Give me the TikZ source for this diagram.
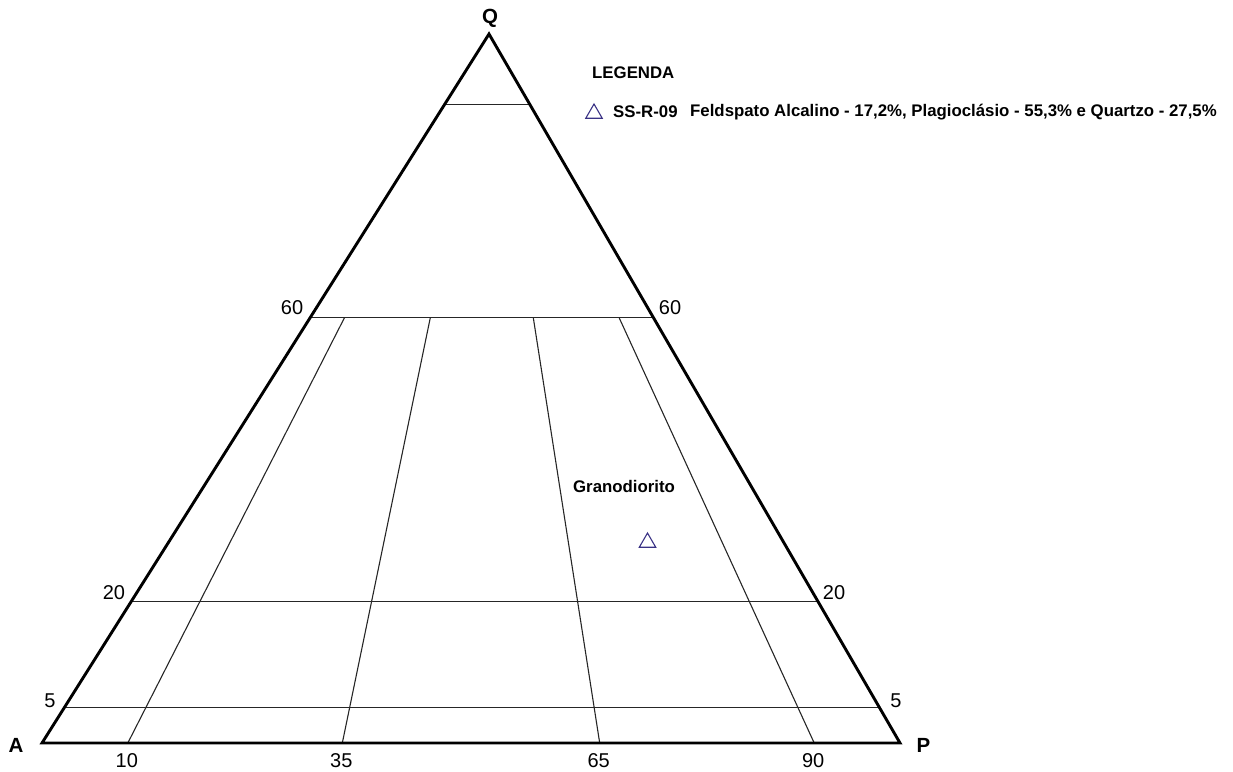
\documentclass[tikz,border=0pt]{standalone}
\usepackage{fontspec}
\setmainfont{Liberation Sans}
\usetikzlibrary{calc,shapes.geometric}
\definecolor{markc}{HTML}{3A3285}
\tikzset{
  frame/.style={line width=2.9pt, line join=miter},
  grid/.style={line width=1.1pt, draw=black!85},
  vlabel/.style={font=\bfseries\fontsize{20.5}{22}\selectfont, inner sep=0},
  num/.style={font=\fontsize{20}{22}\selectfont, inner sep=0},
  legtxt/.style={font=\bfseries\fontsize{16.8}{18}\selectfont, anchor=west, inner sep=0},
  marker/.style={regular polygon, regular polygon sides=3, draw=markc, line width=1.1pt, minimum size=19pt, inner sep=0}
}
\begin{document}
\begin{tikzpicture}[x=1pt,y=-1pt]
\useasboundingbox (0,0) rectangle (1233,771);
\coordinate (A) at (42,743);
\coordinate (P) at (900,743);
\coordinate (Q) at (489,34);
% horizontal lines
\coordinate (l90) at ($(A)!0.9!(Q)$); \coordinate (r90) at ($(P)!0.9!(Q)$);
\coordinate (l60) at ($(A)!0.6!(Q)$); \coordinate (r60) at ($(P)!0.6!(Q)$);
\coordinate (l20) at ($(A)!0.2!(Q)$); \coordinate (r20) at ($(P)!0.2!(Q)$);
\coordinate (l5) at ($(A)!0.05!(Q)$); \coordinate (r5) at ($(P)!0.05!(Q)$);
\draw[grid] (l90) -- (r90);
\draw[grid] (l60) -- (r60);
\draw[grid] (l20) -- (r20);
\draw[grid] (l5) -- (r5);
% ratio lines
\foreach \r/\n in {0.10/10,0.35/35,0.65/65,0.90/90}{
  \coordinate (b\n) at ($(A)!\r!(P)$);
  \coordinate (t\n) at ($(b\n)!0.6!(Q)$);
  \draw[grid] (b\n) -- (t\n);
  \node[num] (nb\n) at ($(b\n)+(-1,18)$) {\n};
}
\draw[frame] (A) -- (P) -- (Q) -- cycle;
% vertex labels
\node[vlabel] (lQ) at (490,18) {Q};
\node[vlabel] (lA) at (16,745) {A};
\node[vlabel] (lP) at (923.5,745) {P};
% side numbers
\node[num] (n60l) at (292,308) {60};
\node[num] (n60r) at (670,308) {60};
\node[num] (n20l) at (114,593) {20};
\node[num] (n20r) at (834,593) {20};
\node[num] (n5l) at (50,701) {5};
\node[num] (n5r) at (896,701) {5};
% field label and sample
\node[font=\bfseries\fontsize{16.8}{18}\selectfont, inner sep=0] (gd) at (624,486) {Granodiorito};
\node[marker] (s1) at (647.5,542.5) {};
% legend
\node[legtxt] (leg) at (592,72.5) {LEGENDA};
\node[marker] (lm) at (594,113.5) {};
\node[legtxt] (lid) at (613,112) {SS-R-09};
\node[legtxt] (ltx) at (690,112) {Feldspato Alcalino - 17,2\%, Plagioclásio - 55,3\% e Quartzo - 27,5\%};
\end{tikzpicture}
\end{document}
